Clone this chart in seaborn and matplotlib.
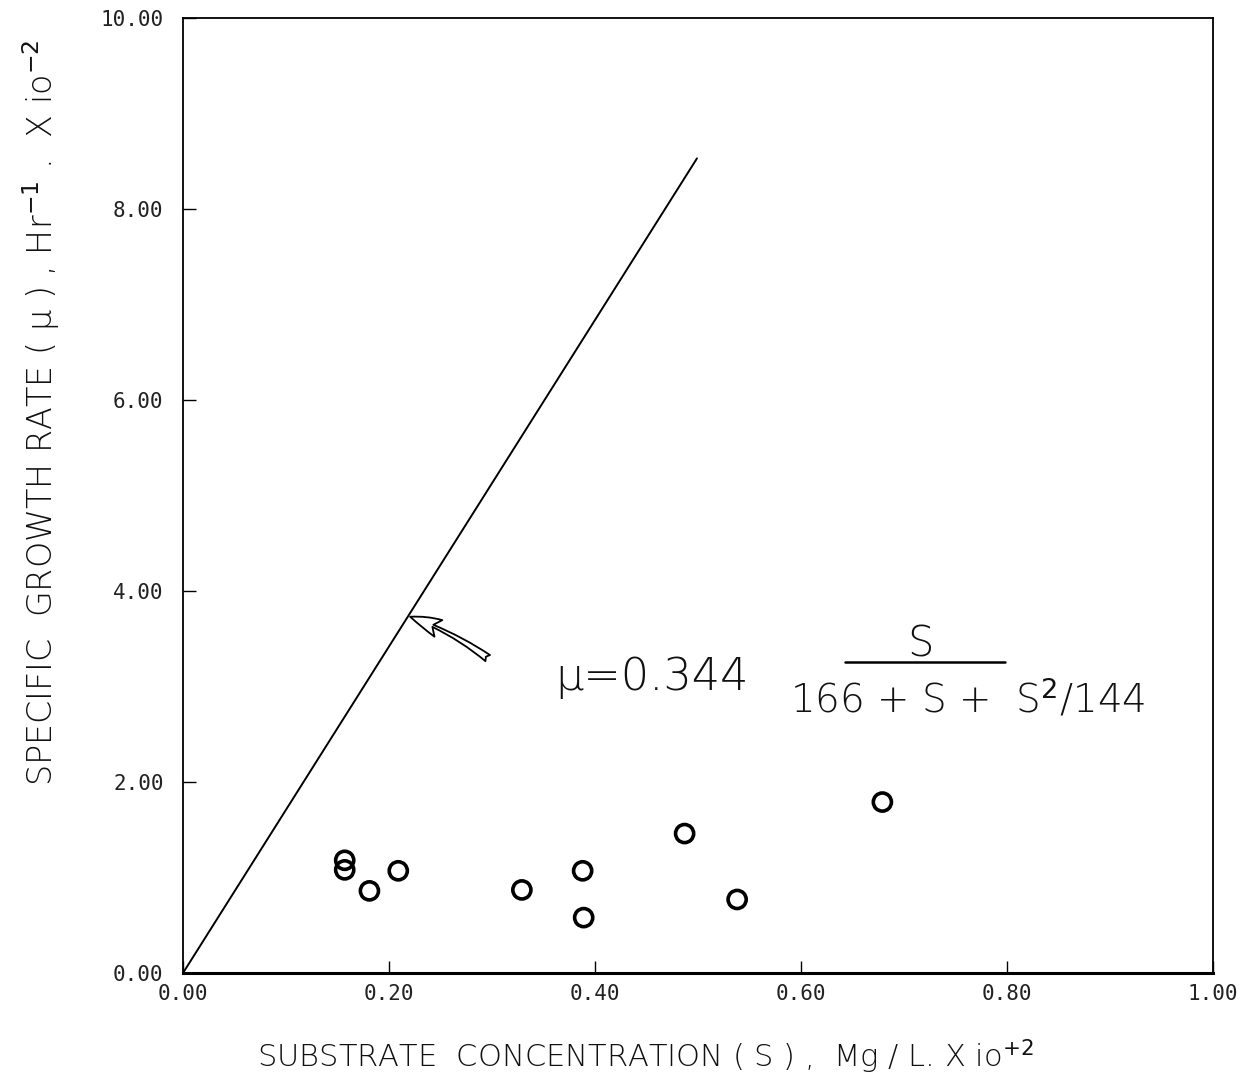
import matplotlib
matplotlib.use("Agg")
import matplotlib.pyplot as plt
import seaborn as sns
import pandas as pd

# Data
sub_conc = [0.157, 0.157, 0.181, 0.209, 0.329, 0.388, 0.389, 0.487, 0.538, 0.679]
growth_rate = [1.18, 1.08, 0.86, 1.07, 0.87, 1.07, 0.58, 1.46, 0.77, 1.79]
line_x = [0.0, 0.499]
line_y = [0.0, 8.53]
x_ticks = [0.0, 0.2, 0.4, 0.6, 0.8, 1.0]
y_ticks = [0.0, 2.0, 4.0, 6.0, 8.0, 10.0]

sns.set_theme(style="white")
plt.rcParams["font.family"] = ["DejaVu Sans"]
plt.rcParams["mathtext.fontset"] = "dejavusans"

fig = plt.figure(figsize=(12.6, 10.89), dpi=100)
ax = fig.add_axes([183 / 1260, 1 - 973 / 1089, (1213 - 183) / 1260, (973 - 18) / 1089])

pts = pd.DataFrame({"S": sub_conc, "mu": growth_rate})
ln = pd.DataFrame({"S": line_x, "mu": line_y})

sns.lineplot(data=ln, x="S", y="mu", ax=ax, color="black", linewidth=1.4, sort=False)
sns.scatterplot(data=pts, x="S", y="mu", ax=ax, s=170, facecolor="none",
                edgecolor="black", linewidth=2.6, marker="o", zorder=3)

ax.set_xlim(0, 1)
ax.set_ylim(0, 10)
ax.set_xticks(x_ticks)
ax.set_yticks(y_ticks)
ax.set_xticklabels([f"{v:.2f}" for v in x_ticks], family="DejaVu Sans Mono", fontsize=15,
                   fontweight="light", color="#222222")
ax.set_yticklabels([f"{v:.2f}" for v in y_ticks], family="DejaVu Sans Mono", fontsize=15,
                   fontweight="light", color="#222222")
ax.tick_params(axis="both", direction="in", length=9, width=1, color="black",
               bottom=True, left=True)
ax.tick_params(axis="x", pad=8)
ax.tick_params(axis="y", pad=14)
for side in ["top", "right", "left"]:
    ax.spines[side].set_color("black")
    ax.spines[side].set_linewidth(1.3)
ax.spines["bottom"].set_color("black")
ax.spines["bottom"].set_linewidth(2.2)

ax.set_xlabel("SUBSTRATE  CONCENTRATION ( S ) ,  Mg / L. X io$^{+2}$",
              fontsize=22, fontweight="light", color="#111111")
ax.set_ylabel("SPECIFIC  GROWTH RATE ( μ ) , Hr$^{-1}$ .  X io$^{-2}$",
              fontsize=24, fontweight="light", color="#111111")
ax.xaxis.set_label_coords(0.449, -0.068)
ax.yaxis.set_label_coords(-0.117, 0.587)

# Equation annotation
ax.annotate("", xy=(0.218, 3.74), xytext=(0.298, 3.28),
            arrowprops=dict(arrowstyle="fancy,head_length=1.0,head_width=0.6,tail_width=0.25",
                            fc="white", ec="black", lw=1.3, mutation_scale=22,
                            connectionstyle="arc3,rad=0.08"))
ax.text(0.361, 2.96, "μ=0.344", fontsize=32, fontweight="light",
        va="baseline", ha="left", color="#111111")
ax.text(0.716, 3.31, "S", fontsize=30, fontweight="light",
        va="baseline", ha="center", color="#111111")
ax.plot([0.643, 0.798], [3.26, 3.26], color="black", lw=1.8)
ax.text(0.762, 2.73, "166 + S +  S$^2$/144", fontsize=28, fontweight="light",
        va="baseline", ha="center", color="#111111")

fig.savefig("out.png", dpi=100, facecolor="white")
